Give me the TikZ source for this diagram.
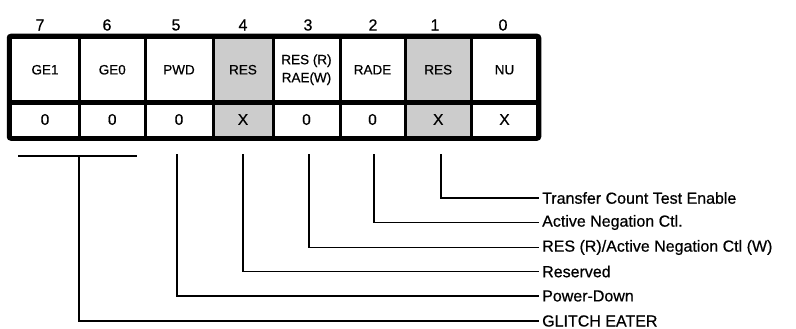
\documentclass[tikz,border=0pt]{standalone}
\usepackage{fontspec}
\setmainfont{Liberation Sans}[FakeBold=0.6]
\colorlet{shade}{black!20}
\tikzset{
  cell/.style={draw=black, line width=3pt, inner sep=0pt, align=center},
  hdrfont/.style={font=\fontsize{13.5}{18}\selectfont},
  valfont/.style={font=\fontsize{15.5}{16}\selectfont},
  bitnum/.style={font=\fontsize{16}{16}\selectfont, inner sep=0pt},
  lbl/.style={anchor=west, inner sep=3pt, font=\fontsize{16}{18}\selectfont},
  conn/.style={draw=black, line width=1.8pt}
}
\begin{document}
\begin{tikzpicture}[x=1pt,y=-1pt]
\useasboundingbox (0,0) rectangle (796,329);
\foreach \b/\l/\r/\bx/\t/\v/\f in {
  7/10.5/79.5/40/GE1/0/white,
  6/79.5/145/107/GE0/0/white,
  5/145/213/176/PWD/0/white,
  4/213/273/243/RES/X/shade,
  3/273/340/308/{RES (R)\\RAE(W)}/0/white,
  2/340/405/373/RADE/0/white,
  1/405/471.5/435/RES/X/shade,
  0/471.5/537.5/503/NU/X/white}{
  \node[cell, hdrfont, fill=\f, minimum width={(\r-\l)*1pt}, minimum height=64.5pt] (c\b) at ({(\l+\r)/2}, 69.75) {\t};
  \node[cell, valfont, fill=\f, minimum width={(\r-\l)*1pt}, minimum height=35pt] (v\b) at ({(\l+\r)/2}, 119.5) {\v};
  \node[bitnum] (b\b) at (\bx, 25) {\b};
}
% row divider and outer frame
\draw[line width=4pt] (c7.south west) -- (c0.south east);
\draw[line width=4.5pt, rounded corners=2pt] (c7.north west) rectangle (v0.south east);

% labels
\node[lbl] (l1) at (539,198) {Transfer Count Test Enable};
\node[lbl] (l2) at (539,222.5) {Active Negation Ctl.};
\node[lbl] (l3) at (539,247.5) {RES (R)/Active Negation Ctl (W)};
\node[lbl] (l4) at (539,271.5) {Reserved};
\node[lbl] (l5) at (539,296) {Power-Down};
\node[lbl] (l7) at (539,321) {GLITCH EATER};

% connector start points
\coordinate (t1) at (441,154);
\coordinate (t2) at (374,154);
\coordinate (t3) at (309,154);
\coordinate (t4) at (243,154);
\coordinate (t5) at (177,154);
\coordinate (ga) at (18,156);
\coordinate (gb) at (137,156);
\coordinate (g7) at (79,156);

\draw[conn] (t1) |- (l1.west);
\draw[conn] (t2) |- (l2.west);
\draw[conn] (t3) |- (l3.west);
\draw[conn] (t4) |- (l4.west);
\draw[conn] (t5) |- (l5.west);
\draw[conn] (ga) -- (gb);
\draw[conn] (g7) |- (l7.west);
\end{tikzpicture}
\end{document}
